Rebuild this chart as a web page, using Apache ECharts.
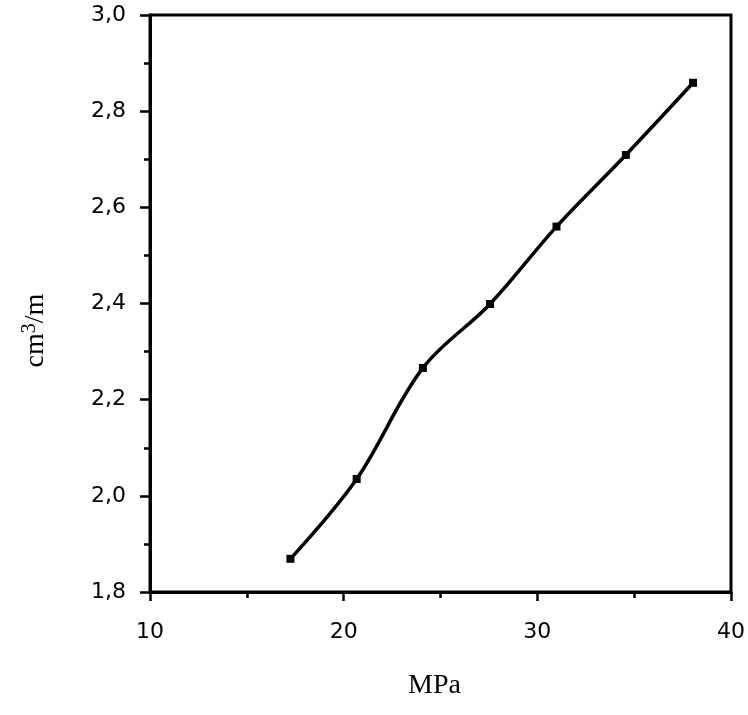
<!DOCTYPE html>
<html>
<head>
<meta charset="utf-8">
<script src="https://cdn.jsdelivr.net/npm/echarts@6/dist/echarts.min.js"></script>
<style>
    html, body { margin: 0; padding: 0; background: #fff; }
    #chart { width: 748px; height: 715px; }
</style>
</head>
<body>
<div id="chart"></div>
<script>
    // pressure (MPa) vs. volume per metre (cm3/m)
    var pressure = [17.25, 20.67, 24.09, 27.56, 30.99, 34.57, 38.04];
    var volume = [1.869, 2.035, 2.266, 2.399, 2.560, 2.709, 2.859];

    var points = pressure.map(function (p, i) { return [p, volume[i]]; });

    var chart = echarts.init(document.getElementById('chart'));

    var labelFont = {
        color: '#000',
        fontFamily: 'DejaVu Sans',
        fontSize: 22
    };
    var tickStyle = { color: '#000', width: 2.5 };

    chart.setOption({
        animation: false,
        backgroundColor: '#fff',
        grid: {
            left: 150,
            right: 16,
            top: 15,
            bottom: 123,
            show: true,
            borderColor: '#000',
            borderWidth: 3
        },
        xAxis: {
            type: 'value',
            min: 10,
            max: 40,
            interval: 10,
            name: 'MPa',
            nameLocation: 'middle',
            nameGap: 80,
            nameTextStyle: {
                color: '#000', fontFamily: 'Liberation Serif', fontSize: 28,
                padding: [0, 12, 0, 0]
            },
            axisLine: { lineStyle: { color: '#000', width: 3 } },
            axisTick: { inside: false, length: 9, lineStyle: tickStyle },
            minorTick: { show: true, splitNumber: 2, length: 6, lineStyle: tickStyle },
            splitLine: { show: false },
            axisLabel: Object.assign({ margin: 29 }, labelFont)
        },
        yAxis: {
            type: 'value',
            min: 1.8,
            max: 3.0,
            interval: 0.2,
            name: '{a|cm}{s|3}{a|/m}',
            nameLocation: 'middle',
            nameGap: 98,
            nameRotate: 90,
            nameTextStyle: {
                color: '#000',
                padding: [0, 54, 0, 0],
                rich: {
                    a: { fontFamily: 'Liberation Serif', fontSize: 28, color: '#000' },
                    s: { fontFamily: 'Liberation Serif', fontSize: 20, color: '#000', verticalAlign: 'top', padding: [0, 0, 12, 0] }
                }
            },
            axisLine: { lineStyle: { color: '#000', width: 3 } },
            axisTick: { inside: false, length: 10, lineStyle: tickStyle },
            minorTick: { show: true, splitNumber: 2, length: 6, lineStyle: tickStyle },
            splitLine: { show: false },
            axisLabel: Object.assign({
                margin: 24,
                formatter: function (v) { return v.toFixed(1).replace('.', ','); }
            }, labelFont)
        },
        series: [{
            type: 'line',
            data: points,
            smooth: 0.35,
            symbol: 'rect',
            symbolSize: 8,
            itemStyle: { color: '#000' },
            lineStyle: { color: '#000', width: 3.5 }
        }]
    });
</script>
</body>
</html>
